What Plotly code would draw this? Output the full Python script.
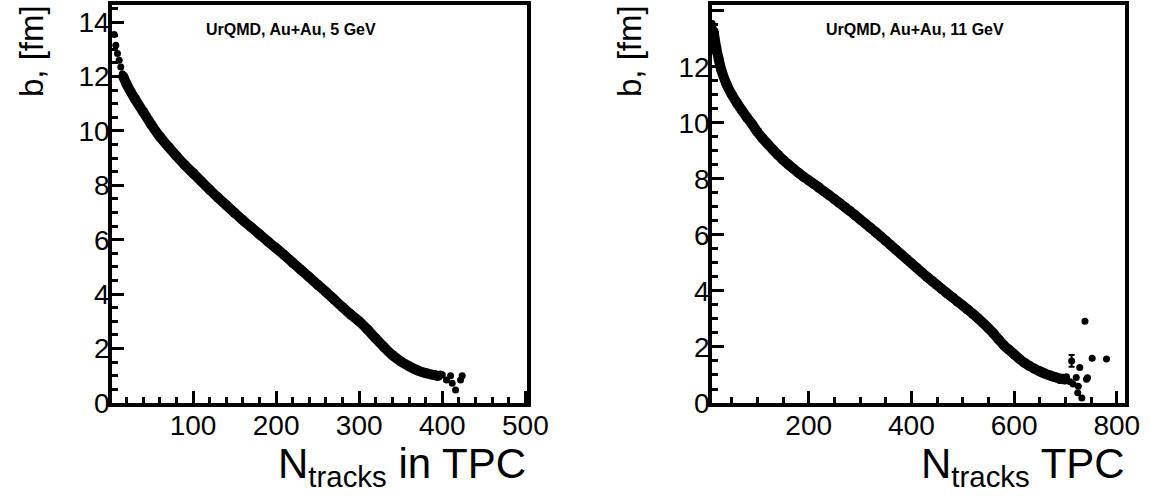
import plotly.graph_objects as go

# ---------------- data ----------------
# Left panel: UrQMD Au+Au 5 GeV
left_head_x = [5, 7, 9, 11, 13, 15]
left_head_b = [13.55, 13.15, 12.85, 12.6, 12.35, 12.1]

left_x = [16, 20, 30, 40, 50, 60, 70, 80, 90, 100, 110, 120, 130, 140, 150,
          160, 170, 180, 190, 200, 210, 220, 230, 240, 250, 260, 270, 280,
          290, 300, 310, 320, 330, 340, 350, 360, 370, 380, 390, 395]
left_b = [12.0, 11.72, 11.18, 10.70, 10.22, 9.79, 9.43, 9.08, 8.75, 8.45,
          8.14, 7.84, 7.55, 7.27, 6.99, 6.72, 6.46, 6.20, 5.94, 5.69, 5.43,
          5.16, 4.89, 4.62, 4.35, 4.08, 3.80, 3.52, 3.25, 3.00, 2.70, 2.37,
          2.05, 1.76, 1.53, 1.35, 1.20, 1.10, 1.03, 0.99]

left_tail_x = [398, 400, 405, 410, 412, 416, 422, 424]
left_tail_b = [1.07, 1.04, 0.85, 1.0, 0.73, 0.48, 0.85, 1.0]

# Right panel: UrQMD Au+Au 11 GeV
right_head_x = [12, 13, 14]
right_head_b = [13.55, 13.45, 13.35]

right_x = [15, 20, 25, 30, 40, 50, 60, 70, 80, 90, 100, 110, 120, 130, 140,
           150, 160, 170, 180, 190, 200, 210, 220, 230, 240, 250, 260, 270,
           280, 290, 300, 310, 320, 330, 340, 350, 360, 370, 380, 390, 400,
           410, 420, 430, 440, 450, 460, 470, 480, 490, 500, 510, 520, 530,
           540, 550, 560, 570, 580, 590, 600, 610, 620, 630, 640, 650, 660,
           670, 680, 690, 700]
right_b = [13.26, 12.68, 12.25, 11.88, 11.38, 11.02, 10.72, 10.45, 10.19,
           9.95, 9.68, 9.45, 9.25, 9.05, 8.86, 8.68, 8.52, 8.37, 8.22, 8.08,
           7.95, 7.82, 7.69, 7.55, 7.42, 7.28, 7.14, 7.00, 6.86, 6.71, 6.56,
           6.41, 6.26, 6.11, 5.95, 5.79, 5.63, 5.47, 5.31, 5.15, 4.99, 4.83,
           4.67, 4.51, 4.36, 4.21, 4.06, 3.91, 3.77, 3.62, 3.48, 3.33, 3.18,
           3.02, 2.85, 2.67, 2.48, 2.27, 2.06, 1.90, 1.74, 1.58, 1.44, 1.32,
           1.22, 1.13, 1.05, 0.98, 0.92, 0.87, 0.84]

right_tail_x = [689, 696, 702, 709, 712, 715, 721, 724, 725, 728, 732, 738, 741, 743, 752, 780]
right_tail_b = [0.80, 0.92, 0.94, 0.76, 1.50, 0.68, 0.91, 0.37, 0.60, 1.27, 0.18, 2.92, 0.85, 0.90, 1.60, 1.57]
right_tail_err = [0, 0, 0, 0, 0.21, 0, 0, 0, 0, 0, 0, 0, 0, 0, 0, 0]

left_label = "UrQMD, Au+Au, 5 GeV"
right_label = "UrQMD, Au+Au, 11 GeV"
y_title = "b, [fm]"
left_x_title = "N<sub>tracks</sub> in TPC"
right_x_title = "N<sub>tracks</sub> TPC"

# ---------------- figure ----------------
W, H = 1156, 496
FONT = "Liberation Sans, Arial, Helvetica, sans-serif"
LW = 10
MS = 7

fig = go.Figure()

def add_panel(xa, ya, hx, hb, cx, cb, tx, tb, terr=None):
    fig.add_trace(go.Scatter(x=hx, y=hb, mode="markers", xaxis=xa, yaxis=ya,
                             marker=dict(color="black", size=MS), showlegend=False))
    fig.add_trace(go.Scatter(x=cx, y=cb, mode="lines+markers", xaxis=xa, yaxis=ya,
                             line=dict(color="black", width=LW, shape="spline"),
                             marker=dict(color="black", size=LW),
                             showlegend=False))
    err = None
    if terr is not None:
        err = dict(type="data", array=terr, color="black", thickness=2, width=3, visible=True)
    fig.add_trace(go.Scatter(x=tx, y=tb, mode="markers", xaxis=xa, yaxis=ya,
                             marker=dict(color="black", size=MS), error_y=err,
                             showlegend=False))

add_panel("x", "y", left_head_x, left_head_b, left_x, left_b, left_tail_x, left_tail_b)
add_panel("x2", "y2", right_head_x, right_head_b, right_x, right_b,
          right_tail_x, right_tail_b, right_tail_err)

ydom = [1 - 403 / H, 1 - 5 / H]
tickfont = dict(family=FONT, size=28, color="black")

def xaxis(domain, rng, dtick, mdtick, anchor):
    return dict(domain=domain, range=rng, dtick=dtick, tick0=0, anchor=anchor,
                automargin=False, ticklabelstandoff=-5,
                ticks="inside", ticklen=12, tickwidth=3, tickcolor="black",
                showline=True, linewidth=3.5, linecolor="black", mirror=True,
                showgrid=False, zeroline=False, tickfont=tickfont,
                minor=dict(dtick=mdtick, tick0=0, ticks="inside", ticklen=6,
                           tickwidth=3, tickcolor="black", showgrid=False))

def yaxis(rng, anchor):
    return dict(domain=ydom, range=rng, dtick=2, tick0=0, anchor=anchor,
                automargin=False, ticklabelstandoff=-7,
                ticks="inside", ticklen=12, tickwidth=3, tickcolor="black",
                showline=True, linewidth=3.5, linecolor="black", mirror=True,
                showgrid=False, zeroline=False, tickfont=tickfont,
                minor=dict(dtick=0.5, tick0=0, ticks="inside", ticklen=6,
                           tickwidth=3, tickcolor="black", showgrid=False))

fig.update_layout(
    template="none",
    width=W, height=H, margin=dict(l=0, r=0, t=0, b=0, pad=0),
    paper_bgcolor="white", plot_bgcolor="white",
    xaxis=xaxis([112 / W, 527 / W], [2.4, 502], 100, 20, "y"),
    yaxis=yaxis([0, 14.63], "x"),
    xaxis2=xaxis([712 / W, 1125 / W], [11.7, 816], 200, 50, "y2"),
    yaxis2=yaxis([0, 14.21], "x2"),
    font=dict(family=FONT, color="black"),
)

ann = []
for xc, txt in [(291, left_label), (915, right_label)]:
    ann.append(dict(text="<b>" + txt + "</b>", x=xc / W, y=1 - 29 / H, xref="paper", yref="paper",
                    xanchor="center", yanchor="middle", showarrow=False,
                    font=dict(family=FONT, size=16, color="black")))
for xc in [31, 629]:
    ann.append(dict(text=y_title, textangle=-90, x=xc / W, y=1 - 3 / H, xref="paper", yref="paper",
                    xanchor="center", yanchor="top", showarrow=False,
                    font=dict(family=FONT, size=33, color="black")))
for xr, txt in [(528, left_x_title), (1127, right_x_title)]:
    ann.append(dict(text=txt, x=xr / W, y=1 - 438 / H, xref="paper", yref="paper",
                    xanchor="right", yanchor="top", showarrow=False,
                    font=dict(family=FONT, size=42, color="black")))
fig.update_layout(annotations=ann)

fig.write_html("out.html")
